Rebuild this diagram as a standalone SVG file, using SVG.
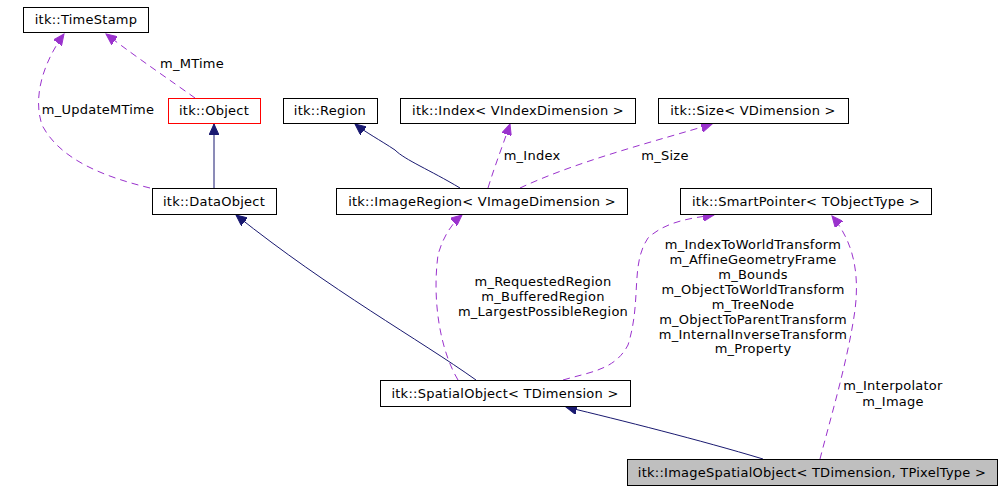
<svg xmlns="http://www.w3.org/2000/svg" width="1003" height="491" viewBox="0 0 1003 491">
<style>
.n rect{fill:#fff;stroke:#000;stroke-width:1}
text{font-family:"DejaVu Sans",sans-serif;font-size:13px;letter-spacing:0.25px;fill:#000}
.n text{text-anchor:middle}
.l{text-anchor:middle}
.inh{fill:none;stroke:#191970;stroke-width:1}
.use{fill:none;stroke:#9a32cd;stroke-width:1;stroke-dasharray:7,5}
</style>
<defs>
<marker id="ai" markerWidth="12" markerHeight="10" refX="11" refY="5" orient="auto" markerUnits="userSpaceOnUse"><path d="M0,0 L11,5 L0,10 z" fill="#191970" stroke="#191970"/></marker>
<marker id="au" markerWidth="12" markerHeight="10" refX="11" refY="5" orient="auto" markerUnits="userSpaceOnUse"><path d="M0,0 L11,5 L0,10 z" fill="#9a32cd" stroke="#9a32cd"/></marker>
</defs>
<rect width="1003" height="491" fill="#fff"/>
<g id="connectors">
<path class="use" d="M195,98 C170,80 140,60 106,34" marker-end="url(#au)"/>
<path class="use" d="M150,188 C105,177 60,160 42,125 C32,95 45,60 64,34" marker-end="url(#au)"/>
<path class="inh" d="M214,188 L214,124" marker-end="url(#ai)"/>
<path class="inh" d="M460,188 C430,170 405,160 395,150 C380,140 365,132 355,124" marker-end="url(#ai)"/>
<path class="use" d="M488,188 C495,165 503,145 510,124" marker-end="url(#au)"/>
<path class="use" d="M520,188 C580,160 660,140 712,124" marker-end="url(#au)"/>
<path class="inh" d="M476,380 C420,340 330,290 236,215" marker-end="url(#ai)"/>
<path class="use" d="M458,380 C440,350 432,300 438,255 C442,240 450,225 462,215" marker-end="url(#au)"/>
<path class="use" d="M563,380 C590,372 615,370 628,345 C642,300 630,265 648,238 C665,222 690,218 714,215" marker-end="url(#au)"/>
<path class="inh" d="M763,459 C700,440 620,420 566,407" marker-end="url(#ai)"/>
<path class="use" d="M820,459 C830,420 848,360 855,310 C860,270 852,240 832,216" marker-end="url(#au)"/>
</g>
<g class="l">
<text x="192" y="68" class="l">m_MTime</text>
<text x="98" y="114" class="l">m_UpdateMTime</text>
<text x="532" y="160" class="l">m_Index</text>
<text x="665" y="160" class="l">m_Size</text>
<text x="543" y="286" class="l">m_RequestedRegion</text>
<text x="543" y="301" class="l">m_BufferedRegion</text>
<text x="543" y="316" class="l">m_LargestPossibleRegion</text>
<text x="753" y="249" class="l">m_IndexToWorldTransform</text>
<text x="753" y="264" class="l">m_AffineGeometryFrame</text>
<text x="753" y="279" class="l">m_Bounds</text>
<text x="753" y="294" class="l">m_ObjectToWorldTransform</text>
<text x="753" y="309" class="l">m_TreeNode</text>
<text x="753" y="324" class="l">m_ObjectToParentTransform</text>
<text x="753" y="339" class="l">m_InternalInverseTransform</text>
<text x="753" y="353" class="l">m_Property</text>
<text x="893" y="390" class="l">m_Interpolator</text>
<text x="893" y="406" class="l">m_Image</text>
</g>
<g id="timestamp" class="n"><rect x="23.5" y="7.5" width="125" height="25"/><text x="86" y="24">itk::TimeStamp</text></g>
<g id="object" class="n"><rect x="168.5" y="98.5" width="92" height="25" style="stroke:#f00"/><text x="214" y="115">itk::Object</text></g>
<g id="region" class="n"><rect x="283.5" y="98.5" width="94" height="25"/><text x="330" y="115">itk::Region</text></g>
<g id="index" class="n"><rect x="400.5" y="98.5" width="235" height="25"/><text x="518" y="115">itk::Index&lt; VIndexDimension &gt;</text></g>
<g id="size" class="n"><rect x="658.5" y="98.5" width="190" height="25"/><text x="753" y="115">itk::Size&lt; VDimension &gt;</text></g>
<g id="dataobject" class="n"><rect x="152.5" y="188.5" width="124" height="26"/><text x="214" y="206">itk::DataObject</text></g>
<g id="imageregion" class="n"><rect x="336.5" y="188.5" width="291" height="26"/><text x="482" y="206">itk::ImageRegion&lt; VImageDimension &gt;</text></g>
<g id="smartpointer" class="n"><rect x="680.5" y="188.5" width="251" height="26"/><text x="806" y="206">itk::SmartPointer&lt; TObjectType &gt;</text></g>
<g id="spatialobject" class="n"><rect x="380.5" y="380.5" width="250" height="26"/><text x="505" y="398">itk::SpatialObject&lt; TDimension &gt;</text></g>
<g id="imagespatialobject" class="n"><rect x="627.5" y="459.5" width="370" height="26" style="fill:#bfbfbf"/><text x="812" y="477">itk::ImageSpatialObject&lt; TDimension, TPixelType &gt;</text></g>
</svg>
